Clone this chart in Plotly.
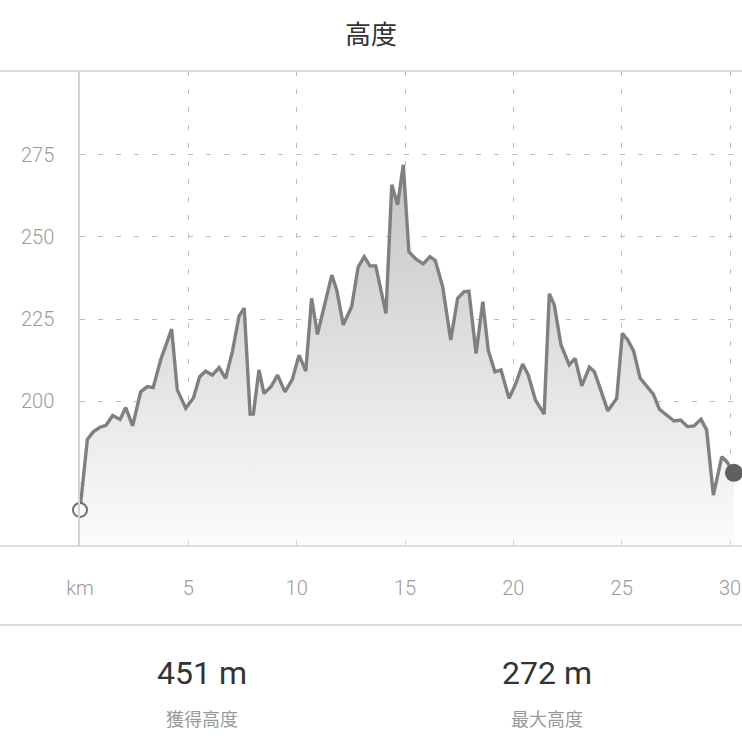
import plotly.graph_objects as go

distance_km = [0.00, 0.34, 0.61, 0.92, 1.20, 1.51, 1.85, 2.11, 2.43, 2.80,
               3.11, 3.38, 3.72, 4.03, 4.23, 4.49, 4.88, 5.24, 5.52, 5.80,
               6.11, 6.42, 6.72, 7.03, 7.34, 7.58, 7.85, 8.00, 8.26, 8.49,
               8.82, 9.12, 9.46, 9.80, 10.11, 10.42, 10.69, 10.96, 11.31, 11.62,
               11.85, 12.15, 12.54, 12.84, 13.12, 13.38, 13.65, 14.12, 14.39, 14.66,
               14.92, 15.18, 15.51, 15.84, 16.15, 16.40, 16.74, 17.11, 17.43, 17.72,
               17.95, 18.28, 18.59, 18.84, 19.15, 19.43, 19.80, 20.12, 20.43, 20.69,
               21.02, 21.42, 21.66, 21.89, 22.20, 22.58, 22.85, 23.16, 23.51, 23.74,
               24.05, 24.36, 24.77, 25.03, 25.28, 25.55, 25.85, 26.17, 26.46, 26.74,
               27.08, 27.42, 27.72, 28.03, 28.34, 28.66, 28.92, 29.23, 29.62, 29.85,
               30.18]
elevation_m = [166.8, 188.3, 190.6, 192.0, 192.6, 195.6, 194.4, 198.0, 192.4, 202.8,
               204.4, 204.1, 212.5, 218.6, 221.9, 203.4, 197.8, 201.0, 207.4, 209.1,
               207.9, 210.2, 206.9, 215.0, 225.9, 228.3, 196.0, 196.0, 209.5, 202.3,
               204.4, 207.9, 202.8, 206.6, 214.0, 209.1, 231.3, 220.3, 229.8, 238.4,
               233.8, 223.2, 228.8, 240.9, 244.0, 241.2, 241.2, 226.7, 265.9, 259.8,
               272.0, 245.5, 243.2, 241.8, 244.0, 242.8, 234.8, 218.6, 231.3, 233.3,
               233.5, 214.5, 230.3, 215.5, 208.9, 209.5, 200.8, 205.4, 211.3, 207.9,
               200.3, 196.0, 232.7, 229.3, 217.1, 211.0, 213.0, 204.6, 210.3, 208.9,
               203.0, 197.0, 200.8, 220.6, 218.6, 215.3, 207.0, 204.4, 202.1, 197.5,
               195.7, 193.9, 194.2, 192.2, 192.4, 194.4, 191.2, 171.3, 183.0, 181.5,
               178.1]

x_tickvals = [0, 5, 10, 15, 20, 25, 30]
x_ticktext = ["km", "5", "10", "15", "20", "25", "30"]
y_tickvals = [175, 200, 225, 250, 275]
y_ticktext = ["", "200", "225", "250", "275"]

title_text = "高度"
stat_values = ["451 m", "272 m"]
stat_labels = ["獲得高度", "最大高度"]

LINE = "#808080"
GRID = "#bdbdbd"
AXIS = "#d3d3d3"
TICKFONT = dict(family="Roboto, Liberation Sans, sans-serif", size=20, color="#9a9a9a", weight=300)
CJK = "Noto Sans CJK JP, Noto Sans CJK SC, sans-serif"

fig = go.Figure()

fig.add_trace(go.Scatter(
    x=distance_km, y=elevation_m, mode="lines",
    line=dict(color=LINE, width=3.4),
    fill="tozeroy",
    fillgradient=dict(type="vertical", start=156, stop=272,
                      colorscale=[[0, "#fcfcfc"], [1, "#c4c4c4"]]),
    hoverinfo="skip", showlegend=False,
))

# start and end markers
fig.add_trace(go.Scatter(
    x=[distance_km[0]], y=[elevation_m[0]], mode="markers",
    marker=dict(size=14, color="white", line=dict(color="#6e6e6e", width=2)),
    cliponaxis=False, showlegend=False, hoverinfo="skip",
))
fig.add_trace(go.Scatter(
    x=[distance_km[-1]], y=[elevation_m[-1]], mode="markers",
    marker=dict(size=18, color="#606060", line=dict(width=0)),
    cliponaxis=False, showlegend=False, hoverinfo="skip",
))

W, H = 742, 749
L, R, T, B = 80, 0, 71, 203
pw = W - L - R
ph = H - T - B

def px_to_paper_x(px):
    return (px - L) / pw

def px_to_paper_y(py):
    return (H - B - py) / ph

shapes = []
for py in (71, 546, 625):
    shapes.append(dict(type="line", xref="paper", yref="paper",
                       x0=px_to_paper_x(0), x1=px_to_paper_x(W),
                       y0=px_to_paper_y(py), y1=px_to_paper_y(py),
                       line=dict(color=AXIS, width=1.5), layer="above"))

annotations = []
for i, (v, lab) in enumerate(zip(stat_values, stat_labels)):
    cx = px_to_paper_x([202, 547][i])
    annotations.append(dict(text=v, x=cx, y=px_to_paper_y(673), xref="paper", yref="paper",
                            showarrow=False, xanchor="center", yanchor="middle",
                            font=dict(family="Roboto, Liberation Sans, sans-serif", size=32, color="#333333")))
    annotations.append(dict(text=lab, x=cx, y=px_to_paper_y(718), xref="paper", yref="paper",
                            showarrow=False, xanchor="center", yanchor="middle",
                            font=dict(family=CJK, size=18, color="#999999")))

fig.update_layout(
    width=W, height=H,
    margin=dict(l=L, r=R, t=T, b=B),
    paper_bgcolor="white", plot_bgcolor="white",
    title=dict(text=title_text, x=0.5, xanchor="center", y=1 - 35 / H, yanchor="middle",
               font=dict(family=CJK, size=26, color="#333333")),
    xaxis=dict(range=[0, pw / 21.667], tickvals=x_tickvals, ticktext=x_ticktext,
               showgrid=True, gridcolor=GRID, griddash="5px,13px", gridwidth=1,
               zeroline=False, showline=False,
               ticks="inside", ticklen=6, tickcolor=AXIS, tickwidth=1,
               tickfont=TICKFONT, ticklabelstandoff=28, fixedrange=True),
    yaxis=dict(range=[155.8, 300.6], tickvals=y_tickvals, ticktext=y_ticktext,
               showgrid=True, gridcolor=GRID, griddash="5px,13px", gridwidth=1,
               zeroline=False, showline=True, linecolor=AXIS, linewidth=1.5,
               ticks="", tickfont=TICKFONT, ticklabelstandoff=20, fixedrange=True),
    shapes=shapes,
    annotations=annotations,
)

fig.write_html("out.html", config={"displayModeBar": False},
               post_script="document.body.style.margin='0';document.body.style.overflow='hidden';")
